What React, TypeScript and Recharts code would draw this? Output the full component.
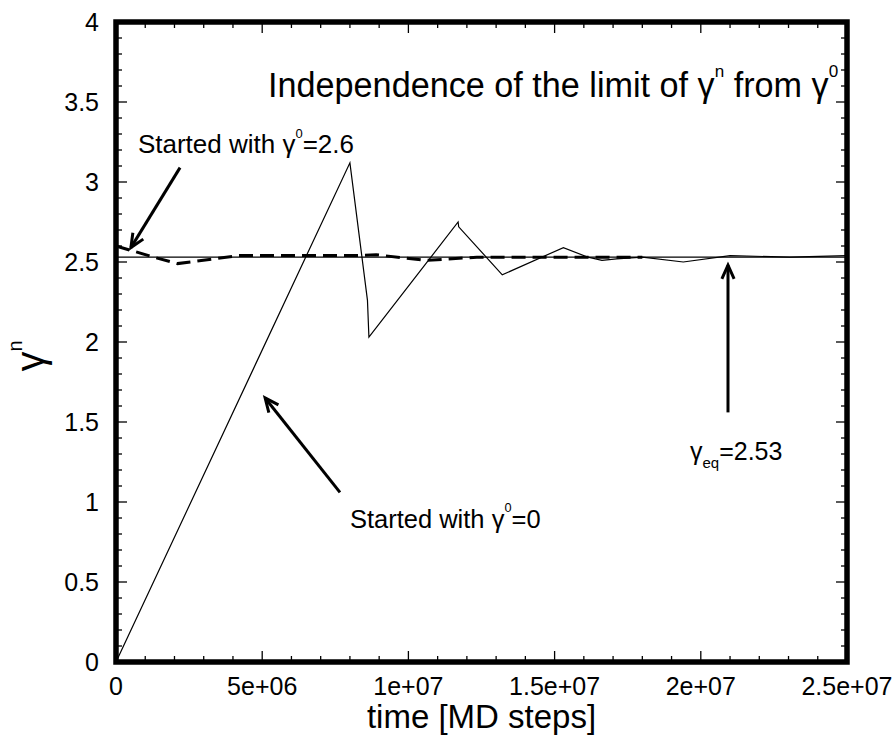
import React from "react";
import {
  ComposedChart,
  Line,
  XAxis,
  YAxis,
  ReferenceLine,
  ReferenceDot,
} from "recharts";

const FONT = "'Liberation Sans', Arial, Helvetica, sans-serif";

const W = 894;
const H = 736;
const MARGIN = { top: 22, right: 47, bottom: 0, left: 0 };
const Y_AXIS_W = 116;
const X_AXIS_H = 74;
const PLOT_TOP = MARGIN.top;
const PLOT_BOTTOM = H - MARGIN.bottom - X_AXIS_H;
const PLOT_LEFT = MARGIN.left + Y_AXIS_W;
const PLOT_RIGHT = W - MARGIN.right;

// run started with gamma^0 = 0 (thin solid)
const fromZeroSteps = [
  0, 8.0e6, 8.6e6, 8.65e6, 1.17e7, 1.172e7, 1.321e7, 1.53e7, 1.614e7, 1.662e7,
  1.712e7, 1.8e7, 1.94e7, 2.1e7, 2.305e7, 2.5e7,
];
const fromZeroGamma = [
  0, 3.12, 2.26, 2.03, 2.75, 2.72, 2.42, 2.59, 2.53, 2.51, 2.52, 2.53, 2.5,
  2.54, 2.53, 2.54,
];

// run started with gamma^0 = 2.6 (thick dashed)
const fromHighSteps = [
  0, 1.3e6, 2.1e6, 4.2e6, 8.3e6, 8.9e6, 1.063e7, 1.234e7, 1.5e7, 1.8e7,
];
const fromHighGamma = [2.6, 2.53, 2.49, 2.54, 2.54, 2.545, 2.51, 2.53, 2.53, 2.53];

const GAMMA_EQ = 2.53;

const X_DOMAIN = [0, 2.5e7];
const Y_DOMAIN = [0, 4];
const X_MAJOR_TICKS = [0, 5e6, 1e7, 1.5e7, 2e7, 2.5e7];
const X_TICK_LABELS = ["0", "5e+06", "1e+07", "1.5e+07", "2e+07", "2.5e+07"];
const Y_MAJOR_TICKS = [0, 0.5, 1, 1.5, 2, 2.5, 3, 3.5, 4];
const Y_TICK_LABELS = ["0", "0.5", "1", "1.5", "2", "2.5", "3", "3.5", "4"];
const X_MINOR_TICKS = Array.from({ length: 26 }, (_, i) => i * 1e6);
const Y_MINOR_TICKS = Array.from({ length: 41 }, (_, i) => i / 10);

const fromZero = fromZeroSteps.map((t, i) => ({ t, g: fromZeroGamma[i] }));
const fromHigh = fromHighSteps.map((t, i) => ({ t, g: fromHighGamma[i] }));

const findMajor = (list: number[], v: number) =>
  list.findIndex((m) => Math.abs(m - v) < 1e-6 * Math.max(1, Math.abs(m)));

const XTick = (props: any) => {
  const { x, payload } = props;
  const idx = findMajor(X_MAJOR_TICKS, payload.value);
  const len = idx >= 0 ? 11 : 6;
  return (
    <g>
      <line x1={x} x2={x} y1={PLOT_BOTTOM} y2={PLOT_BOTTOM - len} stroke="#000" strokeWidth={1.3} />
      <line x1={x} x2={x} y1={PLOT_TOP} y2={PLOT_TOP + len} stroke="#000" strokeWidth={1.3} />
      {idx >= 0 && (
        <text x={x} y={PLOT_BOTTOM + 33} textAnchor="middle" fontSize={25} fontFamily={FONT} fill="#000">
          {X_TICK_LABELS[idx]}
        </text>
      )}
    </g>
  );
};

const YTick = (props: any) => {
  const { y, payload } = props;
  const idx = findMajor(Y_MAJOR_TICKS, payload.value);
  const len = idx >= 0 ? 11 : 6;
  return (
    <g>
      <line x1={PLOT_LEFT} x2={PLOT_LEFT + len} y1={y} y2={y} stroke="#000" strokeWidth={1.3} />
      <line x1={PLOT_RIGHT} x2={PLOT_RIGHT - len} y1={y} y2={y} stroke="#000" strokeWidth={1.3} />
      {idx >= 0 && (
        <text x={99} y={y + 9} textAnchor="end" fontSize={25} fontFamily={FONT} fill="#000">
          {Y_TICK_LABELS[idx]}
        </text>
      )}
    </g>
  );
};

const arrowShape = (p: any) => {
  const { x1, y1, x2, y2 } = p;
  const a = Math.atan2(y2 - y1, x2 - x1);
  const L = 15;
  const s = 0.42;
  const ax = x2 - L * Math.cos(a - s);
  const ay = y2 - L * Math.sin(a - s);
  const bx = x2 - L * Math.cos(a + s);
  const by = y2 - L * Math.sin(a + s);
  return (
    <g>
      <line x1={x1} y1={y1} x2={x2} y2={y2} stroke="#000" strokeWidth={3} />
      <polyline points={`${ax},${ay} ${x2},${y2} ${bx},${by}`} fill="none" stroke="#000" strokeWidth={3} />
    </g>
  );
};

const supText = (main: string, sup: string, rest: string, fs: number) => (p: any) => (
  <text x={p.cx} y={p.cy} fontSize={fs} fontFamily={FONT} fill="#000">
    {main}
    <tspan dy={-0.6 * fs} fontSize={0.5 * fs}>{sup}</tspan>
    <tspan dy={0.6 * fs}>{rest}</tspan>
  </text>
);

const titleShape = (p: any) => {
  const fs = 34.2;
  return (
    <text x={p.cx} y={p.cy} fontSize={fs} fontFamily={FONT} fill="#000">
      Independence of the limit of γ
      <tspan dy={-0.6 * fs} fontSize={0.5 * fs}>n</tspan>
      <tspan dy={0.6 * fs}> from γ</tspan>
      <tspan dy={-0.6 * fs} fontSize={0.5 * fs}>0</tspan>
    </text>
  );
};

const eqShape = (p: any) => {
  const fs = 25;
  return (
    <text x={p.cx} y={p.cy} fontSize={fs} fontFamily={FONT} fill="#000">
      γ
      <tspan dy={0.3 * fs} fontSize={0.6 * fs}>eq</tspan>
      <tspan dy={-0.3 * fs}>=2.53</tspan>
    </text>
  );
};

const XTitle = () => (
  <text x={(PLOT_LEFT + PLOT_RIGHT) / 2} y={728} textAnchor="middle" fontSize={33} fontFamily={FONT} fill="#000">
    time [MD steps]
  </text>
);

// y title plus the heavy plot frame (drawn in the axis layer so it is not clipped)
const YTitleAndFrame = () => (
  <g>
    <rect
      x={PLOT_LEFT}
      y={PLOT_TOP}
      width={PLOT_RIGHT - PLOT_LEFT}
      height={PLOT_BOTTOM - PLOT_TOP}
      fill="none"
      stroke="#000"
      strokeWidth={5.5}
    />
    <text x={44} y={356} transform="rotate(-90, 44, 356)" textAnchor="middle" fontSize={40} fontFamily={FONT} fill="#000">
      γ
      <tspan dy={-22} fontSize={20}>n</tspan>
    </text>
  </g>
);

export default function App() {
  return (
    <div style={{ position: "absolute", left: 0, top: 0, width: W, height: H, background: "#fff" }}>
      <ComposedChart width={W} height={H} margin={MARGIN}>
        <XAxis
          dataKey="t"
          type="number"
          domain={X_DOMAIN}
          ticks={X_MINOR_TICKS}
          interval={0}
          height={X_AXIS_H}
          axisLine={false}
          tickLine={false}
          tick={(p: any) => <XTick {...p} />}
          label={{ content: () => <XTitle /> }}
        />
        <YAxis
          type="number"
          domain={Y_DOMAIN}
          ticks={Y_MINOR_TICKS}
          interval={0}
          width={Y_AXIS_W}
          axisLine={false}
          tickLine={false}
          tick={(p: any) => <YTick {...p} />}
          label={{ content: () => <YTitleAndFrame /> }}
        />
        <ReferenceLine y={GAMMA_EQ} stroke="#000" strokeWidth={1.2} />
        <Line
          data={fromZero}
          dataKey="g"
          type="linear"
          dot={false}
          activeDot={false}
          stroke="#000"
          strokeWidth={1.2}
          isAnimationActive={false}
        />
        <Line
          data={fromHigh}
          dataKey="g"
          type="linear"
          dot={false}
          activeDot={false}
          stroke="#000"
          strokeWidth={3}
          strokeDasharray="14 7"
          isAnimationActive={false}
        />
        <ReferenceLine segment={[{ x: 2.19e6, y: 3.09 }, { x: 5.1e5, y: 2.59 }]} shape={arrowShape} />
        <ReferenceLine segment={[{ x: 7.66e6, y: 1.06 }, { x: 5.1e6, y: 1.65 }]} shape={arrowShape} />
        <ReferenceLine segment={[{ x: 2.093e7, y: 1.56 }, { x: 2.093e7, y: 2.48 }]} shape={arrowShape} />
        <ReferenceDot x={5.2e6} y={3.53} shape={titleShape} />
        <ReferenceDot x={7.5e5} y={3.18} shape={supText("Started with γ", "0", "=2.6", 26)} />
        <ReferenceDot x={8.0e6} y={0.84} shape={supText("Started with γ", "0", "=0", 25.5)} />
        <ReferenceDot x={1.963e7} y={1.26} shape={eqShape} />
      </ComposedChart>
    </div>
  );
}
